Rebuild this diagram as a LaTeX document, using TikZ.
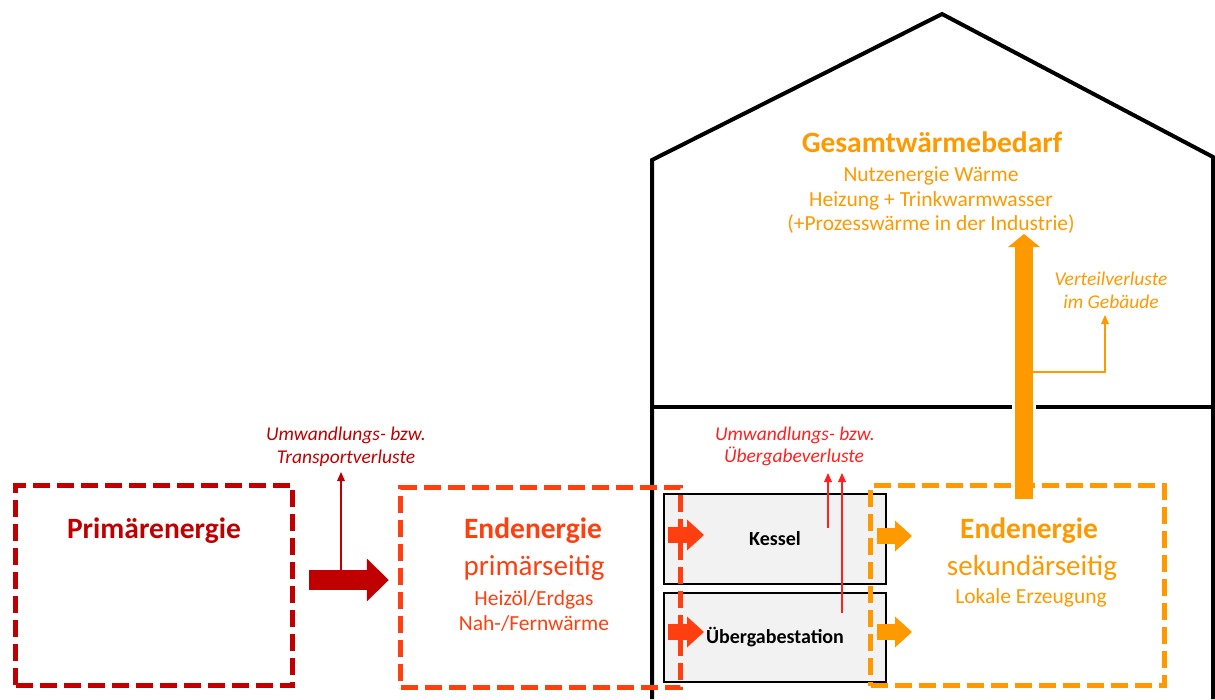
\documentclass[tikz,border=0pt]{standalone}
\usepackage{fontspec}
\setmainfont{Carlito}
\usepackage{xcolor}
\usetikzlibrary{arrows.meta,calc,positioning}
\definecolor{primred}{HTML}{C00000}
\definecolor{endred}{HTML}{FF3F0F}
\definecolor{sekorange}{HTML}{FF9900}
\definecolor{lossred}{HTML}{FF2020}
\definecolor{boxgray}{HTML}{F2F2F2}

\begin{document}
\begin{tikzpicture}[x=1pt,y=-1pt,
  house/.style={draw=black, line width=4pt},
  energybox/.style={draw, line width=5.5pt, dash pattern=on 17pt off 7pt, minimum height=200pt},
  unitbox/.style={draw=black, fill=boxgray, line width=1.6pt, minimum width=222pt,
    font=\fontsize{20}{24}\selectfont\bfseries},
  bigarrow/.style={line width=20pt, -{Triangle[length=22pt,width=43pt,line width=0pt]}},
  smallarrow/.style={line width=16pt, -{Triangle[length=17pt,width=31pt,line width=0pt]}},
  heatarrow/.style={line width=18pt, -{Triangle[length=13pt,width=32pt,line width=0pt]}},
  lossarrow/.style={line width=1.6pt, -{Triangle[length=9pt,width=8pt,line width=0pt]}},
  title/.style={anchor=base, font=\fontsize{29.5}{35}\selectfont\bfseries},
  subtitle/.style={anchor=base, font=\fontsize{29}{35}\selectfont},
  detail/.style={anchor=base, font=\fontsize{21.5}{26}\selectfont},
  losstext/.style={anchor=base, font=\fontsize{19.5}{23}\selectfont\itshape}]
  \useasboundingbox (0,0) rectangle (1215,699);

  % house
  \draw[house] (652,699) -- (652,160) -- (942,14) -- (1213,157) -- (1213,699);
  \draw[house] (652,407) -- (1012,407);
  \draw[house] (1036,407) -- (1213,407);

  % units
  \node[unitbox, minimum height=90pt] (kessel) at (775,539) {Kessel};
  \node[unitbox, minimum height=89pt] (station) at (775,637.5) {Übergabestation};

  % energy boxes
  \node[energybox, primred, minimum width=277pt] (prim) at (154,585.5) {};
  \node[energybox, endred, minimum width=280pt] (endp) at (540.5,587.5) {};
  \node[energybox, sekorange, minimum width=294pt] (ends) at (1017.5,585.5) {};

  % losses
  \coordinate (transport) at (341,472);
  \coordinate (lossk) at (828,473);
  \coordinate (losss) at (842,473);
  \coordinate (verteil) at (1105,315);
  \coordinate (branch) at (1024,372);
  \coordinate (nutz) at (1024,234);
  \draw[lossarrow, primred] (341,570) -- (transport);
  \draw[lossarrow, lossred] ([xshift=53pt,yshift=11pt]kessel.center) -- (lossk);
  \draw[lossarrow, lossred] ([xshift=67pt,yshift=24.5pt]station.center) -- (losss);
  \draw[lossarrow, sekorange] (branch) -| (verteil);

  % flows
  \draw[bigarrow, primred] ([xshift=14pt,yshift=5.5pt]prim.east) -- ([xshift=-9pt,yshift=7.5pt]endp.west);
  \draw[smallarrow, endred] (668,535) -- (704,535);
  \draw[smallarrow, endred] (668,632) -- (704,632);
  \draw[smallarrow, sekorange] (877,536) -- (912,536);
  \draw[smallarrow, sekorange] (877,632) -- (912,632);
  \draw[heatarrow, sekorange] ($(ends.north -| nutz)+(0,16)$) -- (nutz);

  % texts
  \node[title, primred] (primtitle) at (154,538) {Primärenergie};
  \node[losstext, primred] (trans1) at (346,440) {Umwandlungs- bzw.};
  \node[losstext, primred] (trans2) at (346,463) {Transportverluste};

  \node[title, endred] (endptitle) at (533,538) {Endenergie};
  \node[subtitle, endred] (endpsub) at (534,575) {primärseitig};
  \node[detail, endred] (endpa) at (534,605) {Heizöl/Erdgas};
  \node[detail, endred] (endpb) at (534,630) {Nah-/Fernwärme};

  \node[losstext, lossred] (ueber1) at (795,440) {Umwandlungs- bzw.};
  \node[losstext, lossred] (ueber2) at (794,462) {Übergabeverluste};

  \node[title, sekorange] (endstitle) at (1029,538) {Endenergie};
  \node[subtitle, sekorange] (endssub) at (1032,575) {sekundärseitig};
  \node[detail, sekorange] (endsa) at (1031,603) {Lokale Erzeugung};

  \node[title, sekorange] (gesamt) at (932,152) {Gesamtwärmebedarf};
  \node[detail, sekorange] (gesamta) at (931,181) {Nutzenergie Wärme};
  \node[detail, sekorange] (gesamtb) at (931,206) {Heizung + Trinkwarmwasser};
  \node[detail, sekorange] (gesamtc) at (931,230) {(+Prozesswärme in der Industrie)};

  \node[losstext, sekorange] (vert1) at (1111,285) {Verteilverluste};
  \node[losstext, sekorange] (vert2) at (1111,308) {im Gebäude};
\end{tikzpicture}
\end{document}
